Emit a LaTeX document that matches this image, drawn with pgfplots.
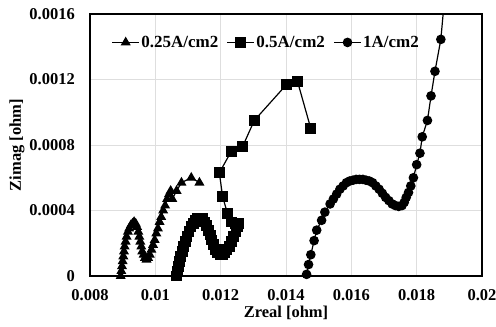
\documentclass[border=0pt]{standalone}
\usepackage{pgfplots}
\pgfplotsset{compat=1.18}
\usepackage{fontspec}
\setmainfont{Liberation Serif}
\begin{document}
\begin{tikzpicture}
\begin{axis}[name=ax, scale only axis, width=392bp, height=262bp,
  xmin=0.008, xmax=0.02, ymin=0, ymax=0.0016,
  scaled x ticks=false, scaled y ticks=false,
  xtick={0.008,0.01,0.012,0.014,0.016,0.018,0.02},
  xticklabels={0.008,0.01,0.012,0.014,0.016,0.018,0.02},
  ytick={0,0.0004,0.0008,0.0012,0.0016},
  yticklabels={0,0.0004,0.0008,0.0012,0.0016},
  major tick length=0pt,
  axis line style={black, line width=1.1bp},
  grid=major, major grid style={color=black!13, line width=0.8bp},
  tick label style={font=\fontsize{16.5bp}{18bp}\selectfont\bfseries},
  xticklabel style={anchor=center, yshift=-19.5bp},
  yticklabel style={anchor=east, inner sep=0pt, xshift=-15bp},
  xlabel={Zreal [ohm]}, ylabel={Zimag [ohm]},
  label style={font=\fontsize{16.5bp}{18bp}\selectfont\bfseries},
  xlabel style={at={(axis description cs:0.5,-0.142)}, anchor=center},
  ylabel style={at={(axis description cs:-0.186,0.5)}, anchor=center},
  legend columns=-1,
  legend style={at={(axis description cs:0.047,0.93)}, anchor=north west, draw=none, fill=none,
    font=\fontsize{17bp}{19bp}\selectfont\bfseries,
    nodes={inner sep=1.5bp},
    /tikz/every even column/.append style={column sep=7bp}},
  legend image code/.code={\draw[mark repeat=2,mark phase=2] plot coordinates {(0bp,0bp)(13.5bp,0bp)(27bp,0bp)};},
  every axis plot/.append style={black, line width=1.2bp, mark options={solid, fill=black}},
]
\addplot[mark=triangle*, mark size=4.6bp] coordinates {
(0.00894,0) (0.00896,0.00003) (0.00898,0.00006) (0.00900,0.00009) (0.00902,0.00012)
(0.00904,0.00015) (0.00906,0.00018) (0.00909,0.00021) (0.00912,0.00024) (0.00916,0.00027)
(0.00920,0.00029) (0.00925,0.00031) (0.00930,0.00032) (0.00935,0.00033) (0.00940,0.00032)
(0.00944,0.00030) (0.00948,0.00027) (0.00951,0.00024) (0.00954,0.00021) (0.00957,0.00018)
(0.00960,0.00015) (0.00964,0.00013) (0.00968,0.00011) (0.00973,0.00010) (0.00978,0.00011)
(0.00983,0.00013) (0.00988,0.00016) (0.00993,0.00019) (0.00998,0.00022) (0.01003,0.00026)
(0.01008,0.00029) (0.01013,0.00033) (0.01018,0.00036) (0.01024,0.00040) (0.01030,0.00043)
(0.01036,0.00047) (0.01042,0.00050) (0.01047,0.00052) (0.01052,0.00047) (0.01065,0.00052)
(0.01080,0.00057) (0.01110,0.00060) (0.01135,0.00057)
};
\addlegendentry{0.25A/cm2}
\addplot[mark=square*, mark size=4.8bp] coordinates {
(0.01065,0) (0.01068,0.00003) (0.01071,0.00006) (0.01074,0.00009) (0.01078,0.00012)
(0.01082,0.00015) (0.01087,0.00018) (0.01092,0.00021) (0.01097,0.00024) (0.01103,0.00027)
(0.01109,0.00030) (0.01116,0.00032) (0.01123,0.00034) (0.01130,0.00035) (0.01137,0.00035)
(0.01144,0.00035) (0.01151,0.00033) (0.01157,0.00031) (0.01163,0.00028) (0.01168,0.00025)
(0.01173,0.00022) (0.01178,0.00019) (0.01184,0.00016) (0.01191,0.00014) (0.01198,0.00013)
(0.01205,0.00013) (0.01212,0.00014) (0.01219,0.00016) (0.01226,0.00018) (0.01233,0.00021)
(0.01240,0.00024) (0.01247,0.00027) (0.01252,0.00030) (0.01255,0.00032) (0.01245,0.00032)
(0.01232,0.00033) (0.01221,0.00038) (0.01206,0.000485) (0.01196,0.00063) (0.01232,0.00076)
(0.01267,0.00079) (0.01303,0.00095) (0.01402,0.00117) (0.01435,0.00119) (0.01476,0.00090)
};
\addlegendentry{0.5A/cm2}
\addplot[mark=*, mark size=4.2bp] coordinates {
(0.01463,0.00001) (0.01469,0.00007) (0.01476,0.00013) (0.01486,0.000216) (0.01494,0.00028)
(0.01509,0.00034) (0.01519,0.00039) (0.01535,0.00044) (0.01545,0.00047) (0.01555,0.00050)
(0.01565,0.00053) (0.01575,0.00055) (0.01585,0.00057) (0.01595,0.00058) (0.01605,0.000585)
(0.01615,0.00059) (0.01625,0.00059) (0.01635,0.00059) (0.01645,0.000585) (0.01655,0.00058)
(0.01665,0.00057) (0.01675,0.00055) (0.01685,0.00053) (0.01695,0.000505) (0.01705,0.00048)
(0.01715,0.00046) (0.01725,0.00044) (0.01735,0.00043) (0.01745,0.000425) (0.01755,0.00043)
(0.01762,0.00045) (0.01768,0.00048) (0.01775,0.00051) (0.01782,0.00055) (0.01790,0.00060)
(0.01800,0.00068) (0.01810,0.00075) (0.01817,0.00085) (0.01833,0.00095) (0.01844,0.00110)
(0.01856,0.00125) (0.01874,0.001445) (0.01890,0.00180)
};
\addlegendentry{1A/cm2}
\end{axis}
\pgfresetboundingbox
\path[use as bounding box] ([shift={(-90bp,-51bp)}]ax.south west) rectangle ([shift={(14bp,14bp)}]ax.north east);
\end{tikzpicture}
\end{document}
